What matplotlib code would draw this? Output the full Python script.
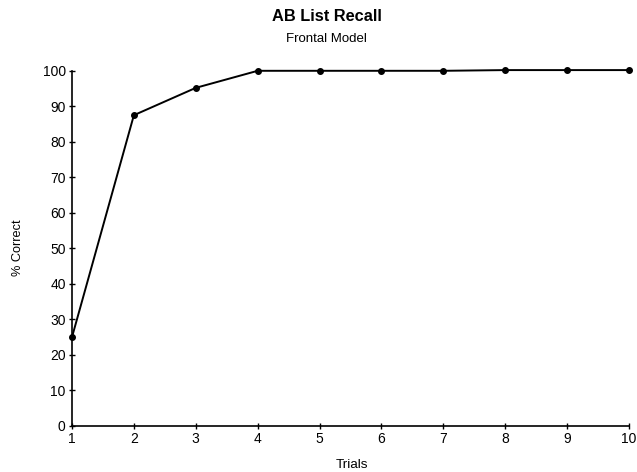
import matplotlib
matplotlib.use("Agg")
import matplotlib.pyplot as plt

plt.rcParams['font.family'] = ['Liberation Sans', 'DejaVu Sans']

trials = [1, 2, 3, 4, 5, 6, 7, 8, 9, 10]
pct_correct = [25, 87.5, 95.2, 100, 100, 100, 100, 100.2, 100.2, 100.2]
y_ticks = [0, 10, 20, 30, 40, 50, 60, 70, 80, 90, 100]

fig = plt.figure(figsize=(6.37, 4.72), dpi=100)
ax = fig.add_axes([0.113, 0.0975, 0.8745, 0.7525])

ax.plot(trials, pct_correct, color='black', linewidth=1.4, clip_on=False,
        marker='o', markersize=4, markerfacecolor='black', markeredgecolor='black',
        zorder=5)

ax.set_xlim(1, 10)
ax.set_ylim(0, 100)
ax.set_xticks(trials)
ax.set_yticks(y_ticks)
ax.tick_params(direction='inout', length=5, width=1, labelsize=10, pad=2)

for side in ('top', 'right'):
    ax.spines[side].set_visible(False)
for side in ('left', 'bottom'):
    ax.spines[side].set_linewidth(1.2)

fig.text(0.513, 0.965, 'AB List Recall', ha='center', va='center',
         fontsize=11.8, fontweight='bold')
fig.text(0.513, 0.918, 'Frontal Model', ha='center', va='center', fontsize=9.5)
fig.text(0.029, 0.475, '% Correct', ha='center', va='center', rotation=90, fontsize=9.2)
fig.text(0.552, 0.015, 'Trials', ha='center', va='center', fontsize=9.7)

fig.savefig('out.png', dpi=100)
